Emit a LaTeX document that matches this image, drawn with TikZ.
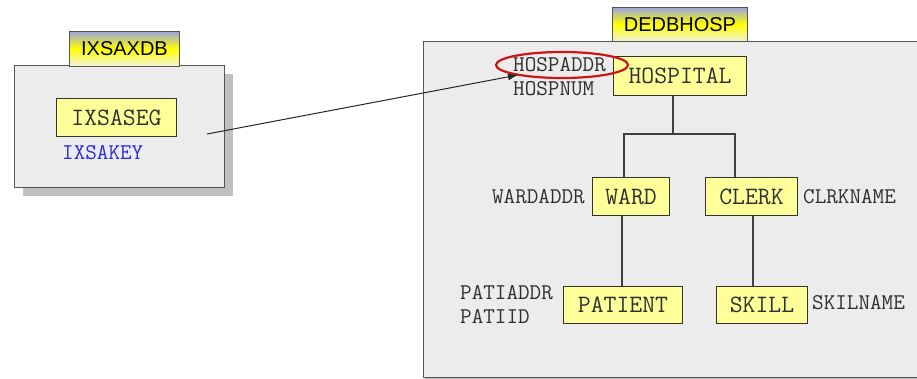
\documentclass[tikz,border=0pt]{standalone}
\usepackage{fontspec}
\setmainfont{Liberation Sans}
\setsansfont{Liberation Sans}
\usetikzlibrary{arrows.meta,shapes.geometric}
\definecolor{panel}{HTML}{ECECEC}
\definecolor{panelline}{HTML}{555555}
\definecolor{segfill}{HTML}{FFFF99}
\definecolor{lavender}{HTML}{9CA4DC}
\definecolor{tabbot}{HTML}{F2F2E2}
\definecolor{txt}{HTML}{303030}
\definecolor{keyblue}{HTML}{2A2AE0}
\definecolor{redring}{HTML}{CC1515}
\tikzset{
  panelbox/.style={draw=panelline, fill=panel, line width=1pt, inner sep=0pt, anchor=north west},
  shadowbox/.style={fill=black!25, draw=none, inner sep=0pt, anchor=north west},
  tabbox/.style={draw=panelline, line width=0.9pt, top color=lavender, bottom color=tabbot, middle color=yellow, inner sep=0pt, anchor=north west, font=\fontsize{20}{22}\selectfont\sffamily, text=black},
  segbox/.style={draw=black!80, fill=segfill, line width=1pt, inner sep=0pt, anchor=north west, font=\fontsize{25}{27}\selectfont\ttfamily, text=txt},
  fieldlbl/.style={inner sep=0pt, font=\fontsize{22.5}{24}\selectfont\ttfamily, text=txt, align=left},
  link/.style={draw=black!75, line width=1.1pt},
}
\begin{document}
\begin{tikzpicture}[x=1pt,y=-1pt]
\useasboundingbox (0,0) rectangle (917,379);
% left database
\node[shadowbox, minimum width=210pt, minimum height=122pt] (lsh) at (23,74) {};
\node[panelbox, minimum width=210pt, minimum height=122pt] (lpanel) at (14,65) {};
\node[tabbox, minimum width=110pt, minimum height=35pt] (ltab) at (69,31) {IXSAXDB};
\node[segbox, minimum width=120pt, minimum height=38pt] (ixsaseg) at (56,98) {IXSASEG};
\node[fieldlbl, anchor=west, text=keyblue] (ixsakey) at (62,153) {IXSAKEY};
% right database
\node[shadowbox, minimum width=510pt, minimum height=336pt] (rsh) at (425,43) {};
\node[panelbox, minimum width=510pt, minimum height=336pt] (rpanel) at (423,41) {};
\node[tabbox, minimum width=135pt, minimum height=34pt] (rtab) at (612,7) {DEDBHOSP};
\node[segbox, minimum width=133pt, minimum height=39pt] (hosp) at (613,56) {HOSPITAL};
\node[segbox, minimum width=77pt, minimum height=38pt] (ward) at (592,177) {WARD};
\node[segbox, minimum width=92pt, minimum height=38pt] (clerk) at (705,177) {CLERK};
\node[segbox, minimum width=119pt, minimum height=37pt] (patient) at (563,286) {PATIENT};
\node[segbox, minimum width=91pt, minimum height=37pt] (skill) at (716,286) {SKILL};
% field labels
\node[fieldlbl, anchor=north west] (hospf) at (513,57) {HOSPADDR\\HOSPNUM};
\node[fieldlbl, anchor=east] (wardf) at (585,197) {WARDADDR};
\node[fieldlbl, anchor=west] (clerkf) at (803,197) {CLRKNAME};
\node[fieldlbl, anchor=north west] (patf) at (460,285) {PATIADDR\\PATIID};
\node[fieldlbl, anchor=west] (skillf) at (812,303) {SKILNAME};
% hierarchy
\coordinate (hj) at (673,134);
\coordinate (wl) at (624,134);
\coordinate (cl) at (735,134);
\coordinate (wp) at (622,250);
\coordinate (cs) at (753,250);
\draw[link] (hosp.south -| hj) -- (hj);
\draw[link] (wl |- ward.north) -- (wl) -- (cl) -- (cl |- clerk.north);
\draw[link] (wp |- ward.south) -- (wp |- patient.north);
\draw[link] (cs |- clerk.south) -- (cs |- skill.north);
% highlight ring
\node[draw=redring, line width=2.2pt, ellipse, minimum width=132pt, minimum height=26pt, inner sep=0pt] (ring) at (562,65) {};
% pointer
\coordinate (a0) at (207,134);
\coordinate (a1) at (518,75);
\draw[black!85, line width=1pt, -{Latex[length=10pt,width=7pt]}] (a0) -- (a1);
\end{tikzpicture}
\end{document}
